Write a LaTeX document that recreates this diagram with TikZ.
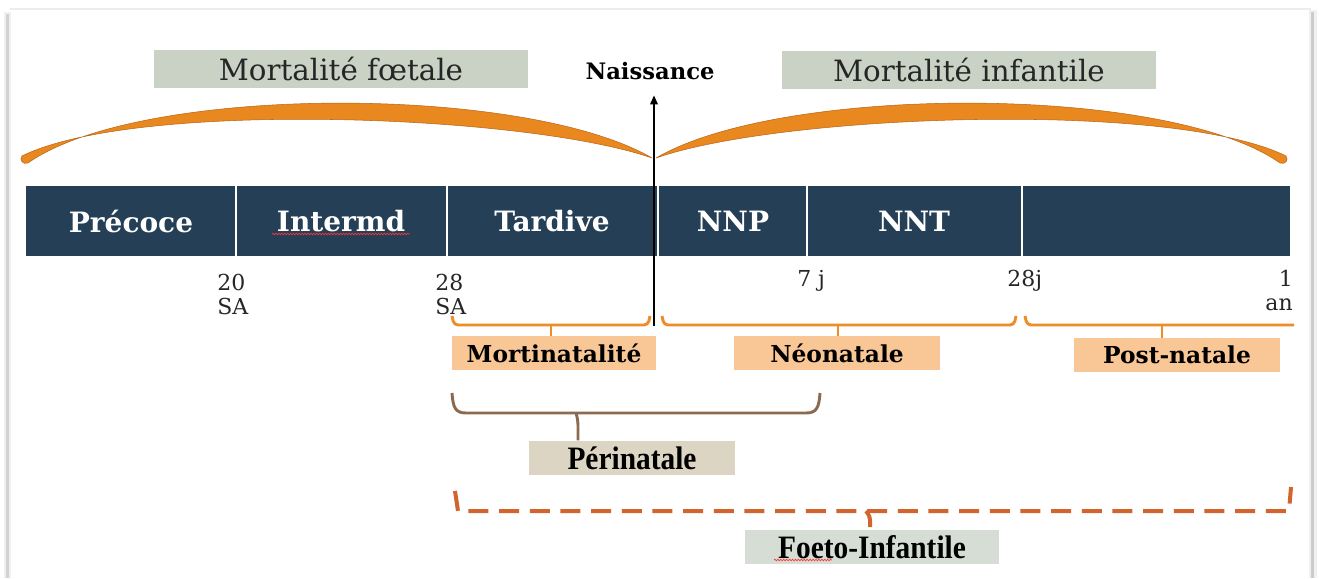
\documentclass[tikz,border=0pt]{standalone}
\usepackage{fontspec}
\setmainfont{DejaVu Serif}
\newfontfamily\narrowfont[FakeStretch=0.9]{Liberation Serif}
\usetikzlibrary{arrows.meta,decorations.pathmorphing}

\definecolor{barblue}{RGB}{36,63,86}
\definecolor{sagebox}{RGB}{201,210,196}
\definecolor{peachbox}{RGB}{249,198,150}
\definecolor{sandbox}{RGB}{221,213,196}
\definecolor{mistbox}{RGB}{214,221,213}
\definecolor{arcorange}{RGB}{232,136,30}
\definecolor{arcedge}{RGB}{186,104,26}
\definecolor{braceorange}{RGB}{238,140,40}
\definecolor{bracebrown}{RGB}{138,106,80}
\definecolor{dashrust}{RGB}{210,100,46}

\tikzset{
  headbox/.style={fill=sagebox, minimum width=280pt, minimum height=29pt, inner sep=0pt,
    font=\fontsize{22}{26}\selectfont, text=black!85},
  seglabel/.style={text=white, font=\bfseries\fontsize{21}{24}\selectfont},
  ticklabel/.style={font=\fontsize{16.5}{18}\selectfont, text=black!85, align=left, inner sep=0pt},
  termbox/.style={minimum height=25pt, inner sep=0pt, font=\bfseries\fontsize{17.5}{20}\selectfont},
  narrowbox/.style={minimum height=26pt, inner sep=0pt, font=\narrowfont\bfseries\fontsize{24.5}{27}\selectfont},
  bracket/.style={draw=braceorange, line width=2.2pt, rounded corners=3pt},
  brownbrace/.style={draw=bracebrown, line width=2.2pt},
  divider/.style={draw=white, line width=1pt},
  crescent/.style={fill=arcorange, draw=arcedge, line width=0.4pt},
  spellmark/.style={draw=red!80, line width=0.5pt, decorate,
    decoration={snake, amplitude=0.6pt, segment length=2.2pt}},
}

\begin{document}
\begin{tikzpicture}[x=0.75pt, y=-0.75pt]
  \useasboundingbox (0,0) rectangle (1319,578);

  % page edges with a soft shadow
  \fill[gray!12] (4,12) rectangle (11,578);
  \fill[gray!35] (6,14) rectangle (9,578);
  \fill[gray!12] (1309,10) rectangle (1317,578);
  \fill[gray!40] (1311,12) rectangle (1314,578);
  \draw[gray!15, line width=1pt] (10,9) -- (1311,9);

  % section titles
  \node[headbox] (foetal) at (341,69) {Mortalité fœtale};
  \node[headbox] (infant) at (969,70) {Mortalité infantile};

  % crescents spanning each period
  \path[crescent]
    (28,163) .. controls (140,84) and (525,84) .. (652,158)
             .. controls (525,114) and (135,100) .. (22,156)
             .. controls (19,160) and (23,165) .. (28,163) -- cycle;
  \path[crescent]
    (656,158) .. controls (782,84) and (1168,84) .. (1280,163)
              .. controls (1285,165) and (1289,160) .. (1286,156)
              .. controls (1173,100) and (782,114) .. (656,158) -- cycle;

  % timeline bar
  \fill[barblue] (26,186) rectangle (1290,256);
  \foreach \xd in {236,447,658,807,1022}
    \draw[divider] (\xd,186) -- (\xd,256);
  \node[seglabel] (precoce) at (131,221) {Précoce};
  \node[seglabel] (intermd) at (341,221) {Intermd};
  \node[seglabel] (tardive) at (552,221) {Tardive};
  \node[seglabel] (nnp) at (733,221) {NNP};
  \node[seglabel] (nnt) at (914,221) {NNT};
  \draw[spellmark] ([shift={(-69,13)}]intermd.center) -- ([shift={(69,13)}]intermd.center);

  % time marks
  \node[ticklabel, anchor=north west] (t20) at (217,274) {20\\SA};
  \node[ticklabel, anchor=north west] (t28) at (435,274) {28\\SA};
  \node[ticklabel, anchor=north west] (t7) at (797,270) {7 j};
  \node[ticklabel, anchor=north west] (t28j) at (1007,270) {28j};
  \node[ticklabel, anchor=north east, align=right] (t1an) at (1293,270) {1\\an};

  % birth marker
  \node[font=\bfseries\fontsize{17}{20}\selectfont] (naissance) at (650,71) {Naissance};
  \coordinate (birth) at (654,326);
  \draw[line width=1.7pt, -{Triangle[length=7pt,width=5.5pt]}] (birth) -- ([xshift=3pt,yshift=-8pt]naissance.south);

  % period labels
  \node[termbox, fill=peachbox, minimum width=153pt] (mortina) at (554,353) {Mortinatalité};
  \node[termbox, fill=peachbox, minimum width=154pt] (neona) at (837,353) {Néonatale};
  \node[termbox, fill=peachbox, minimum width=154pt] (postna) at (1177,355) {Post-natale};

  % orange braces
  \coordinate (b1l) at (452,316); \coordinate (b1r) at (650,316);
  \draw[bracket] (b1l) -- (454,325) -- (648,325) -- (b1r);
  \draw[bracket] (551,325) -- (mortina.north -| 551,0);
  \coordinate (b2l) at (662,316); \coordinate (b2r) at (1016,316);
  \draw[bracket] (b2l) -- (664,325) -- (1014,325) -- (b2r);
  \draw[bracket] (838,325) -- (neona.north -| 838,0);
  \coordinate (b3l) at (1025,316); \coordinate (b3r) at (1294,325);
  \draw[bracket] (b3l) -- (1027,325) -- (b3r);
  \draw[bracket] (1162,325) -- (postna.north -| 1162,0);

  % perinatal span
  \node[narrowbox, fill=sandbox, minimum width=154pt] (perina) at (632,458) {Périnatale};
  \coordinate (b4l) at (452,393); \coordinate (b4r) at (820,393);
  \draw[brownbrace] (b4l) .. controls (453,407) and (455,413) .. (466,413)
    -- (806,413) .. controls (817,413) and (819,407) .. (b4r);
  \draw[brownbrace, rounded corners=4pt]
    (576,413) -- (578,420) -- (perina.north -| 578,0);

  % foeto-infantile span
  \node[narrowbox, fill=mistbox, minimum width=190pt] (foetoinf) at (872,547) {Foeto-Infantile};
  \draw[spellmark] ([shift={(-98,13)}]foetoinf.center) -- ([shift={(-40,13)}]foetoinf.center);
  \coordinate (b5l) at (455,491); \coordinate (b5r) at (1291,487);
  \draw[draw=dashrust, line width=3pt, dash pattern=on 15pt off 8pt]
    (b5l) -- (458,511) -- (1289,511) -- (b5r);
  \draw[draw=dashrust, line width=3pt, rounded corners=3pt]
    (866,511) -- (870,516) -- (870,527);
\end{tikzpicture}
\end{document}
